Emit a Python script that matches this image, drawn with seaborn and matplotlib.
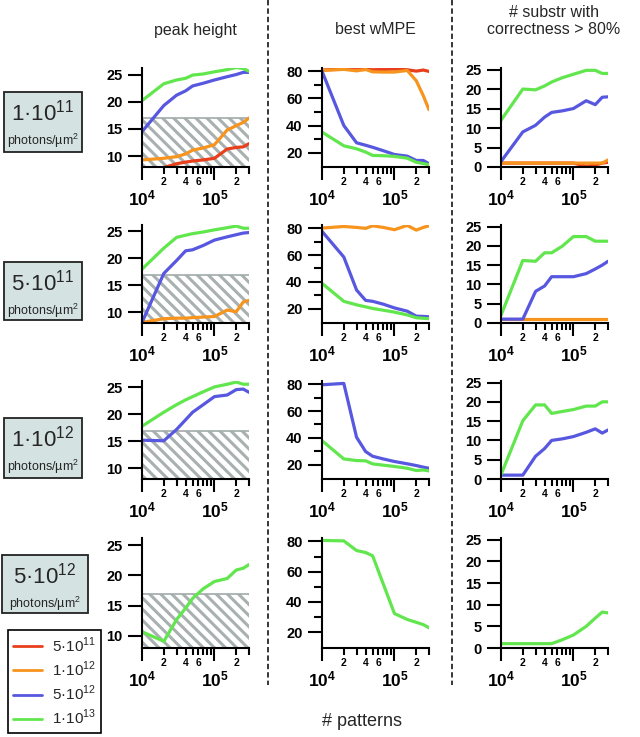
import numpy as np
import pandas as pd
import matplotlib.pyplot as plt
import seaborn as sns
from matplotlib.lines import Line2D
from matplotlib.patches import Rectangle

sns.set_theme(style='ticks')
plt.rcParams['font.family'] = ['Liberation Sans', 'DejaVu Sans']
plt.rcParams['mathtext.fontset'] = 'custom'
plt.rcParams['mathtext.rm'] = 'Liberation Sans'
plt.rcParams['mathtext.bf'] = 'Liberation Sans:bold'
plt.rcParams['hatch.linewidth'] = 2.2
plt.rcParams['axes.edgecolor'] = 'black'
plt.rcParams['xtick.color'] = 'black'
plt.rcParams['ytick.color'] = 'black'

# x values (# patterns)
patterns = [1e4, 2e4, 3e4, 4e4, 5e4, 7e4, 1e5, 1.5e5, 2e5, 2.5e5, 3e5]
doses = ['5·10$^{11}$', '1·10$^{12}$', '5·10$^{12}$', '1·10$^{13}$']
dose_colors = ['#e8401c', '#f7941d', '#5757e0', '#62e64e']
row_labels = ['1·10$^{11}$', '5·10$^{11}$', '1·10$^{12}$', '5·10$^{12}$']
col_titles = ['peak height', 'best wMPE', '# substr with\ncorrectness > 80%']

# peak height
ph1_red = [6.5, 7.9, 8.6, 8.9, 9.1, 9.3, 9.6, 11.3, 11.6, 11.7, 12.3]
ph1_orange = [9.3, 9.6, 9.9, 10.4, 11.1, 11.5, 12.1, 14.8, 15.6, 16.2, 17.0]
ph1_blue = [14.5, 19.3, 21.2, 22.0, 22.9, 23.4, 24.0, 24.6, 25.0, 25.4, 25.4]
ph1_green = [20.2, 23.3, 24.0, 24.3, 24.9, 25.1, 25.5, 25.9, 26.3, 26.1, 25.6]
ph2_orange = [8.1, 8.8, 8.9, 8.9, 9.0, 9.1, 9.2, 10.4, 10.1, 11.9, 12.2]
ph2_blue = [8.1, 17.2, 19.6, 21.4, 21.6, 22.4, 23.4, 24.0, 24.4, 24.7, 24.8]
ph2_green = [18.0, 21.9, 23.9, 24.3, 24.6, 24.9, 25.3, 25.7, 26.0, 25.6, 25.6]
ph3_blue = [15.2, 15.1, 17.2, 19.0, 20.4, 21.8, 23.3, 23.6, 24.6, 24.7, 24.1]
ph3_green = [17.8, 20.4, 21.8, 22.7, 23.3, 24.2, 25.1, 25.6, 26.0, 25.6, 25.6]
ph4_green = [10.7, 9.1, 12.7, 14.6, 16.2, 17.8, 19.0, 19.5, 20.9, 21.2, 21.8]

# best wMPE
mpe1_red = [80.8, 81.5, 81.0, 81.3, 81.0, 81.2, 81.5, 81.0, 80.0, 80.8, 79.8]
mpe1_orange = [80.5, 81.3, 80.2, 81.2, 79.5, 79.3, 79.3, 80.5, 73.0, 62.0, 51.6]
mpe1_blue = [80.0, 40.0, 27.3, 25.5, 24.0, 21.5, 18.7, 17.5, 14.3, 14.3, 11.9]
mpe1_green = [35.2, 25.1, 22.9, 20.5, 18.0, 17.8, 17.3, 16.0, 13.0, 12.0, 11.2]
mpe2_orange = [80.0, 81.2, 80.5, 79.8, 81.7, 80.5, 78.8, 82.0, 78.5, 80.5, 81.7]
mpe2_blue = [77.6, 58.5, 34.0, 26.3, 25.6, 23.5, 20.7, 18.3, 14.6, 14.4, 14.1]
mpe2_green = [39.0, 25.6, 23.0, 21.5, 20.3, 19.0, 17.6, 15.5, 13.4, 13.0, 12.7]
mpe3_blue = [79.5, 80.5, 40.5, 29.9, 26.4, 24.4, 22.5, 20.8, 19.5, 18.3, 17.5]
mpe3_green = [38.0, 24.4, 23.2, 23.0, 20.7, 19.8, 18.8, 17.5, 15.8, 16.2, 15.5]
mpe4_green = [80.7, 80.4, 74.0, 72.7, 70.5, 52.0, 32.3, 28.4, 26.5, 25.0, 22.9]

# substructures with correctness > 80%
sub1_red = [1, 1, 1, 1, 1, 1, 1, 0.2, 0.5, 1, 1.2]
sub1_orange = [1, 1, 1, 1, 1, 1, 1, 1, 1, 1, 1.8]
sub1_blue = [1.4, 9, 10.7, 12.8, 14, 14.4, 15, 17, 16, 17.9, 18]
sub1_green = [12, 20, 19.8, 20.8, 21.8, 22.9, 23.8, 24.8, 24.8, 24, 24]
sub2_orange = [1, 1, 1, 1, 1, 1, 1, 1, 1, 1, 1]
sub2_blue = [1, 1, 8.2, 9.6, 12, 12, 12, 12.8, 14, 15, 16]
sub2_green = [2, 16.2, 16, 18.2, 18.2, 19.9, 22.4, 22.4, 21.2, 21.2, 21.2]
sub3_blue = [1, 1, 5.9, 7.9, 10, 10.4, 11, 12.1, 13, 11.9, 12.7]
sub3_green = [1.1, 15.1, 19.2, 19.2, 17, 17.5, 18, 18.9, 18.9, 20, 20]
sub4_green = [1, 1, 1, 1, 1, 1.9, 3, 5, 6.9, 8.3, 8.1]

panels = [
    [[(0, ph1_red), (1, ph1_orange), (2, ph1_blue), (3, ph1_green)],
     [(0, mpe1_red), (1, mpe1_orange), (2, mpe1_blue), (3, mpe1_green)],
     [(0, sub1_red), (1, sub1_orange), (2, sub1_blue), (3, sub1_green)]],
    [[(1, ph2_orange), (2, ph2_blue), (3, ph2_green)],
     [(1, mpe2_orange), (2, mpe2_blue), (3, mpe2_green)],
     [(1, sub2_orange), (2, sub2_blue), (3, sub2_green)]],
    [[(2, ph3_blue), (3, ph3_green)],
     [(2, mpe3_blue), (3, mpe3_green)],
     [(2, sub3_blue), (3, sub3_green)]],
    [[(3, ph4_green)], [(3, mpe4_green)], [(3, sub4_green)]],
]

W, H = 640, 737
fig = plt.figure(figsize=(6.4, 7.37), dpi=100)

def px_axes(l, t, r, b):
    return fig.add_axes([l / W, 1 - b / H, (r - l) / W, (b - t) / H])

col_left = [142, 322, 501]
col_w = 107
row_top = [68, 225, 381, 538]
row_bot = [167, 323, 479, 648]
ylims = [(8, 26.2), (9.5, 82.3), (0, 25.4)]
yticks = [[10, 15, 20, 25], [20, 40, 60, 80], [0, 5, 10, 15, 20, 25]]
minor_x = [2e4, 3e4, 4e4, 5e4, 6e4, 7e4, 8e4, 9e4, 2e5, 3e5]
minor_lab = ['2', '', '4', '', '6', '', '', '', '2', '']
palette = dict(zip(doses, dose_colors))

for r in range(4):
    for c in range(3):
        ax = px_axes(col_left[c], row_top[r], col_left[c] + col_w, row_bot[r])
        rows = []
        for k, vals in panels[r][c]:
            for x, v in zip(patterns, vals):
                rows.append({'patterns': x, 'value': v, 'dose': doses[k]})
        df = pd.DataFrame(rows)
        if c == 0:
            # hatched band below 17
            ax.axhspan(ylims[0][0], 17, facecolor='none', edgecolor='#a8b0b0',
                       hatch='\\\\\\', lw=0, zorder=0)
            ax.axhline(17, color='#a2aaaa', lw=1.2, zorder=0)
        sns.lineplot(data=df, x='patterns', y='value', hue='dose', hue_order=doses,
                     palette=palette, legend=False, ax=ax, lw=2.3, errorbar=None)
        ax.set_xscale('log')
        ax.set_xlim(1e4, 3e5)
        ax.set_ylim(*ylims[c])
        ax.set_xlabel('')
        ax.set_ylabel('')
        for s in ['top', 'right']:
            ax.spines[s].set_visible(False)
        for s in ['left', 'bottom']:
            ax.spines[s].set_linewidth(1.5)
        ax.set_xticks([1e4, 1e5], [r'$\mathbf{10^4}$', r'$\mathbf{10^5}$'])
        ax.set_xticks(minor_x, minor_lab, minor=True)
        ax.tick_params(axis='x', which='major', length=9.5, width=1.5, pad=6, labelsize=12.5)
        ax.tick_params(axis='x', which='minor', length=5, width=1.5, pad=2.5, labelsize=7.5)
        plt.setp(ax.get_xticklabels(minor=True), fontweight='bold')
        ax.set_yticks(yticks[c])
        if c == 1:
            ax.set_yticks([30, 50, 70], minor=True)
            ax.tick_params(axis='y', which='minor', length=5.5, width=1.5)
        ax.tick_params(axis='y', which='major', length=10, width=1.5, pad=4, labelsize=10.5)
        plt.setp(ax.get_yticklabels(), fontweight='bold')

# row labels (dose boxes)
boxes = [(4, 92, 82, 152), (4, 262, 82, 320), (4, 418, 82, 478), (2, 555, 88, 613)]
for (l, t, rr, b), lab in zip(boxes, row_labels):
    fig.patches.append(Rectangle((l / W, 1 - b / H), (rr - l) / W, (b - t) / H,
                                 transform=fig.transFigure, facecolor='#d5e2e2',
                                 edgecolor='#222222', lw=1.3))
    cx = (l + rr) / 2 / W
    fig.text(cx, 1 - (t + 21) / H, lab, fontsize=16, ha='center', va='center')
    fig.text(cx, 1 - (t + 49) / H, 'photons/µm$^2$', fontsize=9, ha='center', va='center')

# column titles
fig.text(195 / W, 1 - 30 / H, col_titles[0], fontsize=11.5, ha='center', va='center')
fig.text(375 / W, 1 - 30 / H, col_titles[1], fontsize=11.5, ha='center', va='center')
fig.text(554 / W, 1 - 21 / H, col_titles[2], fontsize=11.5, ha='center', va='center',
         linespacing=1.2)
fig.text(362 / W, 1 - 722 / H, '# patterns', fontsize=13, ha='center', va='center')

# dashed separators
for xs in [268, 452]:
    fig.add_artist(Line2D([xs / W, xs / W], [1, 1 - 685 / H], transform=fig.transFigure,
                          color='black', lw=1.1, ls=(0, (3.5, 2))))

handles = [Line2D([], [], color=col, lw=2) for col in dose_colors]
leg = fig.legend(handles, doses, loc='upper left', bbox_to_anchor=(8 / W, 1 - 630 / H),
                 frameon=True, fancybox=False, edgecolor='black', framealpha=1,
                 fontsize=11, handlelength=1.9, labelspacing=0.32, borderpad=0.35,
                 handletextpad=0.6, borderaxespad=0)
leg.get_frame().set_linewidth(1.2)

fig.savefig('out.png', dpi=100)
